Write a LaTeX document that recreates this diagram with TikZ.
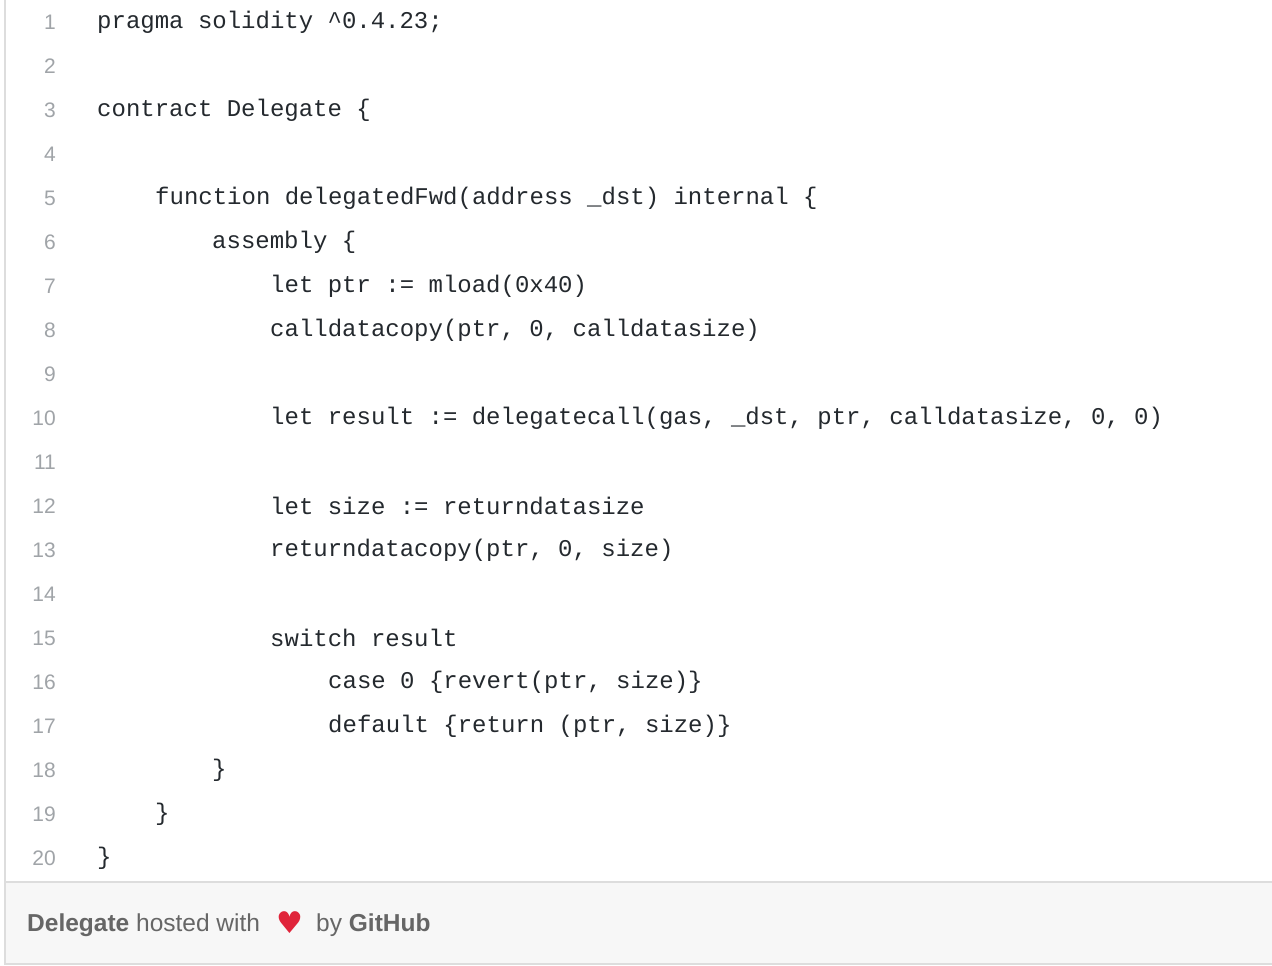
\documentclass[tikz,border=0pt]{standalone}
\usepackage{fontspec}
\setmainfont{Liberation Sans}
\setmonofont{Liberation Mono}
\newfontfamily\heartfont{DejaVu Sans}
\definecolor{codec}{HTML}{24292E}
\definecolor{numc}{HTML}{A0A4A8}
\definecolor{footc}{HTML}{666666}
\definecolor{footbg}{HTML}{F7F7F7}
\definecolor{bordc}{HTML}{DDDDDD}
\definecolor{heartc}{HTML}{E0243A}
\begin{document}
\begin{tikzpicture}[x=1pt,y=-1pt,
  code/.style={anchor=west,inner sep=0pt,font=\fontsize{24}{28}\ttfamily,text=codec},
  num/.style={anchor=east,inner sep=0pt,font=\fontsize{21}{26}\selectfont,text=numc},
  foot/.style={anchor=west,inner sep=0pt,font=\fontsize{24.5}{28}\selectfont,text=footc}]
\useasboundingbox (0,0) rectangle (1272,966);
\fill[white] (0,0) rectangle (1272,966);
\fill[footbg] (5,882) rectangle (1272,964);
\draw[bordc,line width=1.5] (5,0) -- (5,964) -- (1272,964);
\draw[bordc,line width=1.5] (5,882) -- (1272,882);
\foreach \n in {1,...,20} \node[num] (n\n) at (56,{22+44*(\n-1)}) {\n};
\node[code] (l1) at (97,22) {pragma solidity \^{}0.4.23;};
\node[code] (l3) at (97,110) {contract Delegate \{};
\node[code] (l5) at (155,198) {function delegatedFwd(address \_dst) internal \{};
\node[code] (l6) at (212,242) {assembly \{};
\node[code] (l7) at (270,286) {let ptr := mload(0x40)};
\node[code] (l8) at (270,330) {calldatacopy(ptr, 0, calldatasize)};
\node[code] (l10) at (270,418) {let result := delegatecall(gas, \_dst, ptr, calldatasize, 0, 0)};
\node[code] (l12) at (270,506) {let size := returndatasize};
\node[code] (l13) at (270,550) {returndatacopy(ptr, 0, size)};
\node[code] (l15) at (270,638) {switch result};
\node[code] (l16) at (328,682) {case 0 \{revert(ptr, size)\}};
\node[code] (l17) at (328,726) {default \{return (ptr, size)\}};
\node[code] (l18) at (212,770) {\}};
\node[code] (l19) at (155,814) {\}};
\node[code] (l20) at (97,858) {\}};
\node[foot] (f1) at (27,925) {\textbf{Delegate} hosted with};
\node[anchor=west,inner sep=0pt,text=heartc,font=\fontsize{30}{30}\heartfont] (heart) at (276,923) {♥};
\node[foot] (f2) at (316,925) {by \textbf{GitHub}};
\end{tikzpicture}
\end{document}
